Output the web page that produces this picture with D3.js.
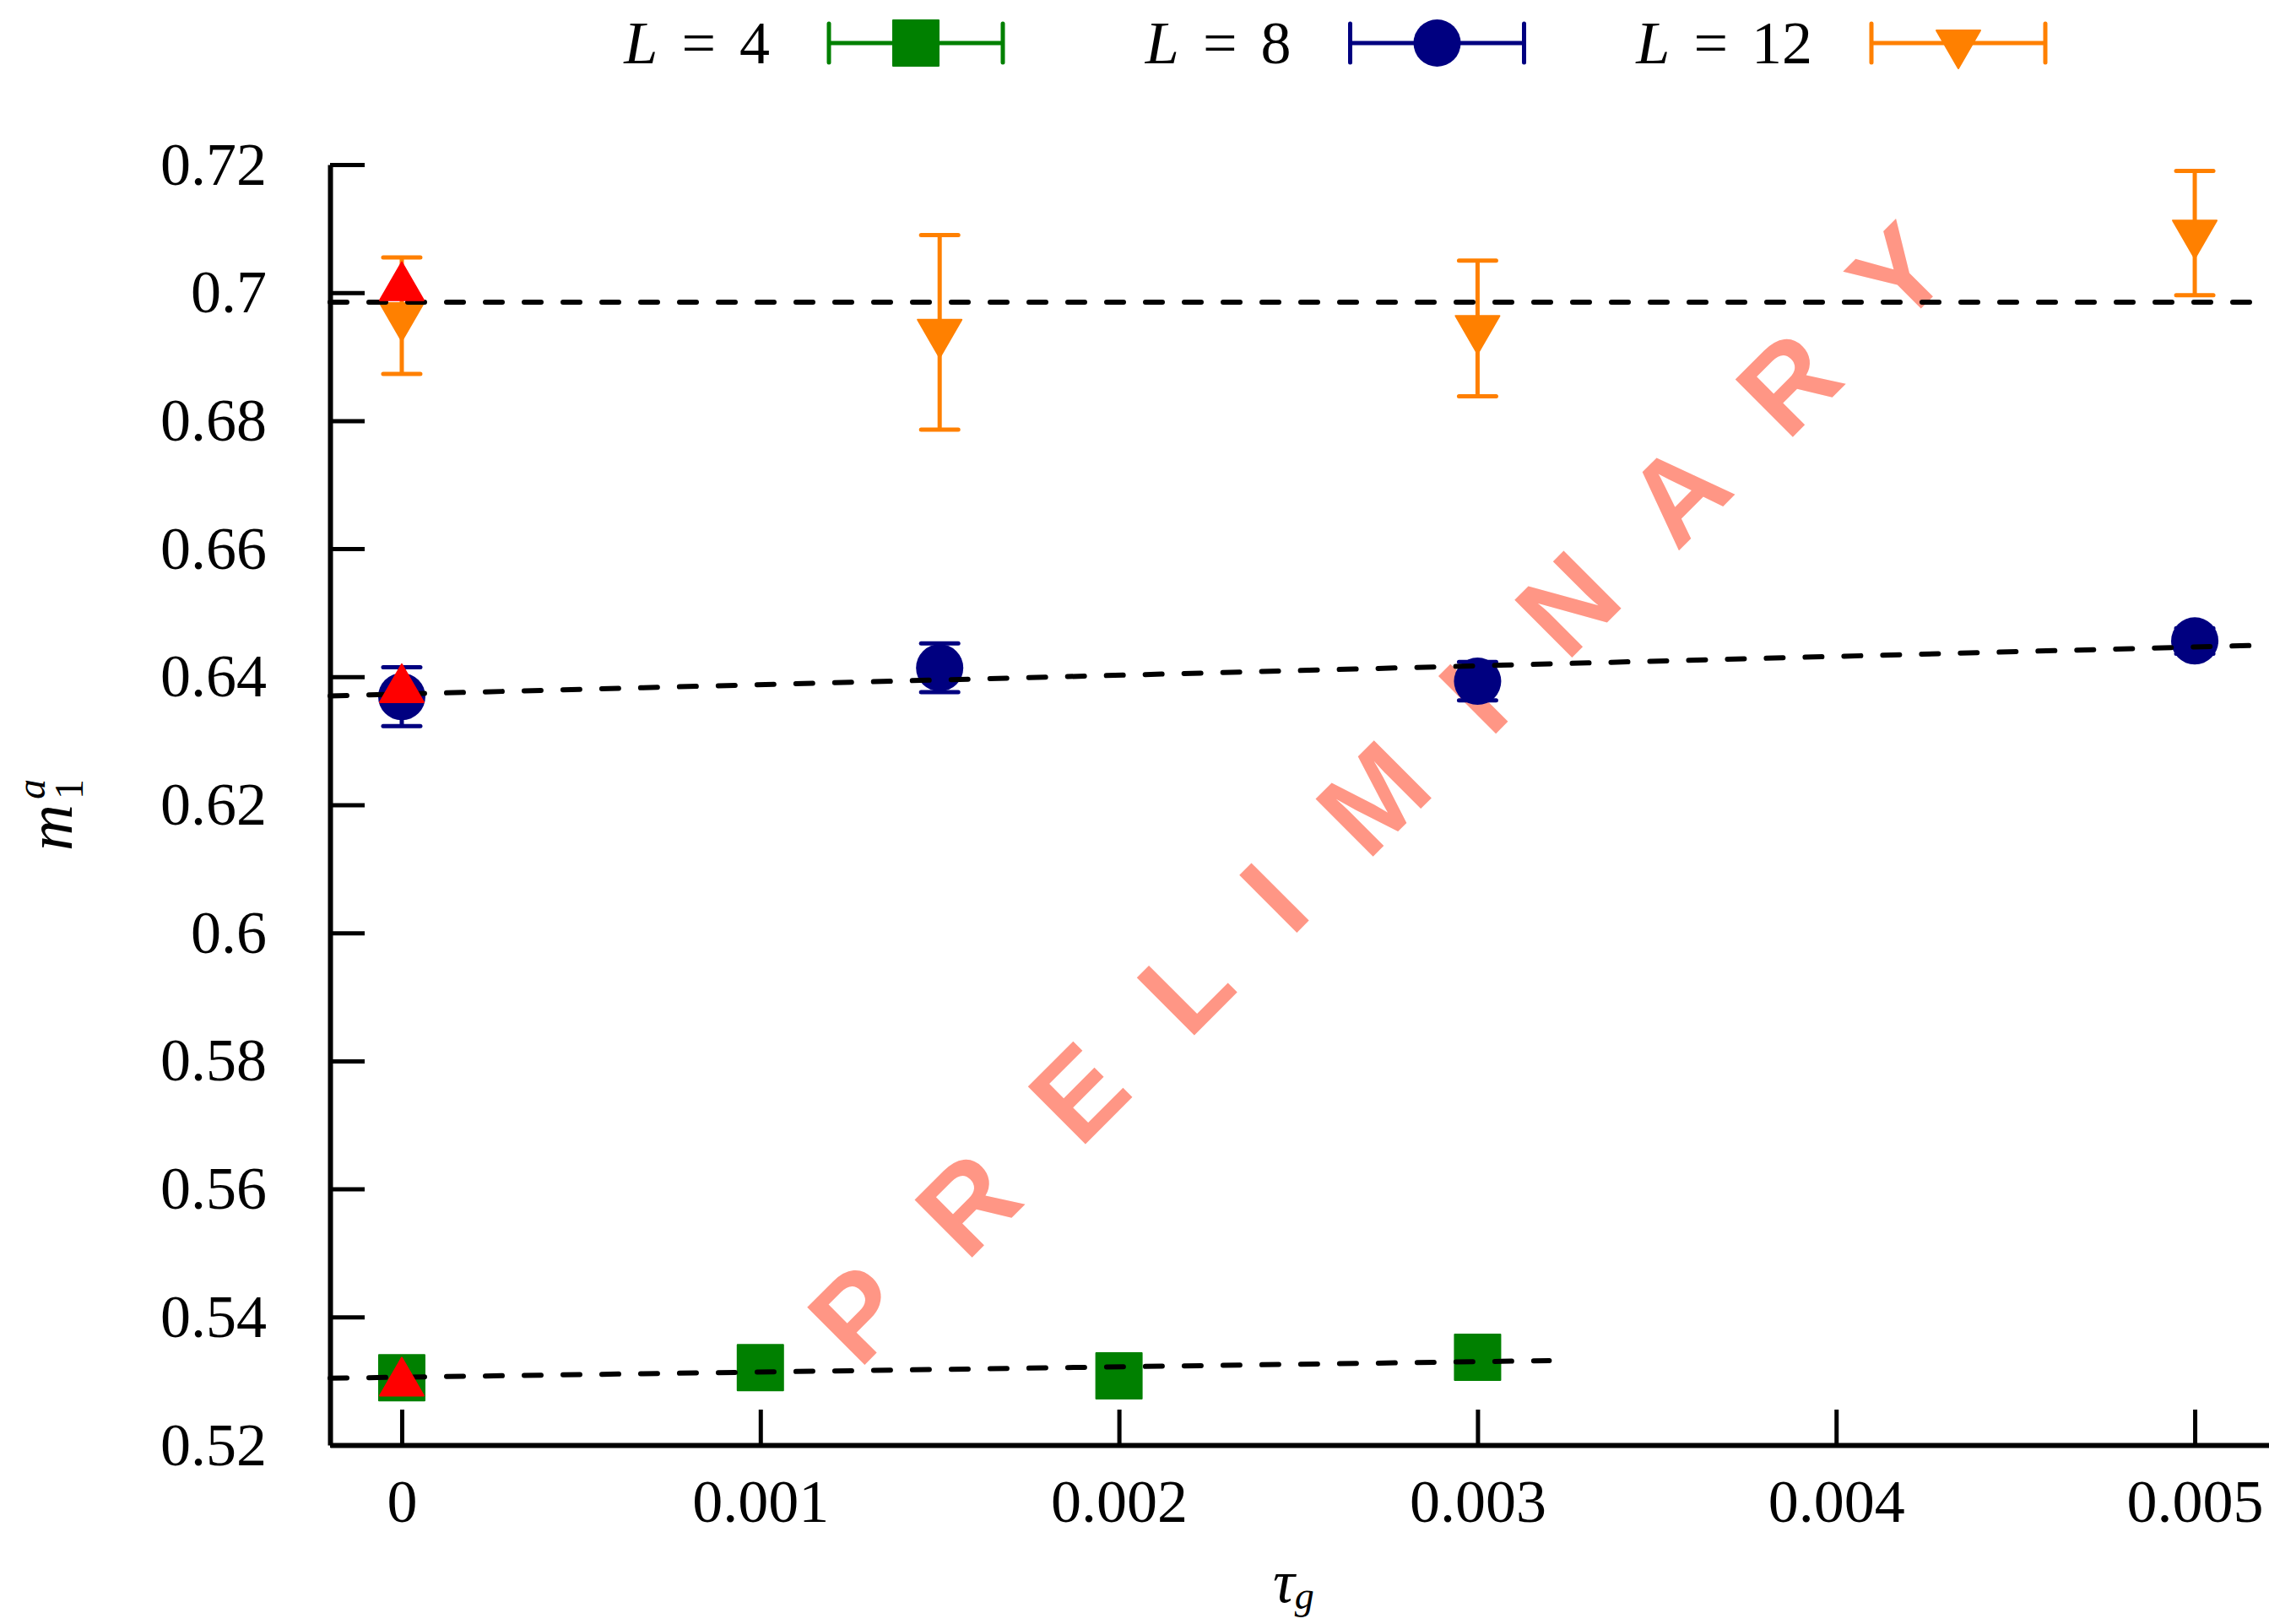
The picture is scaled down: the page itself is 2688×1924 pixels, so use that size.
<!DOCTYPE html>
<html>
<head>
<meta charset="utf-8">
<script src="https://cdn.jsdelivr.net/npm/d3@7"></script>
<style>
    html, body { margin: 0; padding: 0; background: #fff; }
    svg { display: block; }
</style>
</head>
<body>
<div id="chart"></div>
<script>
// 数据: tau_g 与 m_1^a
const tauL4 = [0, 0.001, 0.002, 0.003]
const mL4 = [0.5305, 0.5321, 0.5308, 0.5337]
const errL4 = [0.0015, 0.0015, 0.0015, 0.0015]

const tauL8 = [0, 0.0015, 0.003, 0.005]
const mL8 = [0.6369, 0.6414, 0.6393, 0.6456]
const errL8 = [0.0046, 0.0038, 0.0030, 0.0020]

const tauL12 = [0, 0.0015, 0.003, 0.005]
const mL12 = [0.6964, 0.6938, 0.6944, 0.7093]
const errL12 = [0.0091, 0.0152, 0.0106, 0.0097]

// 外推到 tau_g = 0 的值 (红色三角)
const tauExtrap = [0, 0, 0]
const mExtrap = [0.5297, 0.6380, 0.7008]

// 拟合直线的端点
const fitL4 = [[-0.0002, 0.53044], [0.0032, 0.53319]]
const fitL8 = [[-0.0002, 0.63701], [0.005207, 0.64496]]
const fitL12 = [[-0.0002, 0.6985], [0.005207, 0.6985]]

const xTicks = [0, 0.001, 0.002, 0.003, 0.004, 0.005]
const xTickLabels = ['0', '0.001', '0.002', '0.003', '0.004', '0.005']
const yTicks = [0.52, 0.54, 0.56, 0.58, 0.6, 0.62, 0.64, 0.66, 0.68, 0.7, 0.72]
const yTickLabels = ['0.52', '0.54', '0.56', '0.58', '0.6', '0.62', '0.64', '0.66', '0.68', '0.7', '0.72']

const legendL = ['4', '8', '12']

const W = 2688
const H = 1924
const serif = '"Liberation Serif", "DejaVu Serif", serif'

const series = [
    { L: legendL[0], x: tauL4, y: mL4, e: errL4, color: '#008000', shape: 'square' },
    { L: legendL[1], x: tauL8, y: mL8, e: errL8, color: '#000080', shape: 'circle' },
    { L: legendL[2], x: tauL12, y: mL12, e: errL12, color: '#ff8000', shape: 'down' },
]

const svg = d3.select('#chart').append('svg')
    .attr('width', W)
    .attr('height', H)
    .attr('font-family', serif)

const x = d3.scaleLinear().domain([-0.0002, 0.005207]).range([391, W])
const y = d3.scaleLinear().domain([0.52, 0.72]).range([1712, 195])

// 水印 (放在最底层)
svg.append('text')
    .attr('transform', 'translate(1640,930) rotate(-45)')
    .attr('text-anchor', 'middle')
    .attr('dy', '0.36em')
    .attr('font-family', '"Liberation Sans", Arial, sans-serif')
    .attr('font-weight', 'bold')
    .attr('font-size', 140)
    .attr('letter-spacing', 25)
    .attr('fill', '#ff9685')
    .text('P R E L I M I N A R Y')

// 坐标轴
const yAxis = d3.axisLeft(y)
    .tickValues(yTicks)
    .tickFormat((d, i) => yTickLabels[i])
    .tickSizeInner(-41)
    .tickSizeOuter(0)
    .tickPadding(75)

const xAxis = d3.axisBottom(x)
    .tickValues(xTicks)
    .tickFormat((d, i) => xTickLabels[i])
    .tickSizeInner(-42)
    .tickSizeOuter(0)
    .tickPadding(40)

function styleAxis(g) {
    g.select('.domain').attr('stroke', '#000').attr('stroke-width', 6)
    g.selectAll('.tick line').attr('stroke', '#000').attr('stroke-width', 5)
    g.selectAll('.tick text')
        .attr('fill', '#000')
        .attr('font-size', 72)
        .attr('font-family', serif)
}

svg.append('g')
    .attr('transform', `translate(${x.range()[0]},0)`)
    .call(yAxis)
    .call(styleAxis)

svg.append('g')
    .attr('transform', `translate(0,${y.range()[0]})`)
    .call(xAxis)
    .call(styleAxis)

// 坐标轴标题
const xTitle = svg.append('text')
    .attr('x', 1508)
    .attr('y', 1898)
    .attr('font-size', 72)
    .attr('font-style', 'italic')
xTitle.append('tspan').text('τ')
xTitle.append('tspan').attr('font-size', 46).attr('dy', 8).text('g')

const yTitle = svg.append('g').attr('transform', 'translate(85,960) rotate(-90)')
yTitle.append('text')
    .attr('x', -48)
    .attr('y', 0)
    .attr('font-size', 76)
    .attr('font-style', 'italic')
    .text('m')
yTitle.append('text')
    .attr('x', 13)
    .attr('y', 13)
    .attr('font-size', 48)
    .text('1')
yTitle.append('text')
    .attr('x', 13)
    .attr('y', -32)
    .attr('font-size', 48)
    .attr('font-style', 'italic')
    .text('a')

// 标记点
function drawMarker(g, shape, color) {
    if (shape === 'square') {
        g.append('rect')
            .attr('x', -27).attr('y', -27)
            .attr('width', 54).attr('height', 54)
            .attr('fill', color)
            .attr('stroke', color)
            .attr('stroke-width', 2)
            .attr('stroke-linejoin', 'round')
    } else if (shape === 'circle') {
        g.append('circle')
            .attr('r', 28)
            .attr('fill', color)
    } else {
        const s = shape === 'down' ? 1 : -1
        g.append('path')
            .attr('d', `M-26,${-15 * s}L26,${-15 * s}L0,${30 * s}Z`)
            .attr('fill', color)
            .attr('stroke', color)
            .attr('stroke-width', 2)
            .attr('stroke-linejoin', 'round')
    }
}

function drawErrorBar(g, x0, yLo, yHi, color, capW) {
    g.append('line')
        .attr('x1', x0).attr('x2', x0)
        .attr('y1', yLo).attr('y2', yHi)
        .attr('stroke', color)
        .attr('stroke-width', 5)
    ;[yLo, yHi].forEach((yy) => {
        g.append('line')
            .attr('x1', x0 - capW / 2).attr('x2', x0 + capW / 2)
            .attr('y1', yy).attr('y2', yy)
            .attr('stroke', color)
            .attr('stroke-width', 5)
            .attr('stroke-linecap', 'round')
    })
}

const dataLayer = svg.append('g')

series.forEach((s) => {
    const g = dataLayer.append('g')
    s.x.forEach((xv, i) => {
        drawErrorBar(g, x(xv), y(s.y[i] - s.e[i]), y(s.y[i] + s.e[i]), s.color, 44)
        const m = g.append('g').attr('transform', `translate(${x(xv)},${y(s.y[i])})`)
        drawMarker(m, s.shape, s.color)
    })
})

// 拟合线
const line = d3.line().x(d => x(d[0])).y(d => y(d[1]))
;[fitL4, fitL8, fitL12].forEach((f) => {
    svg.append('path')
        .attr('d', line(f))
        .attr('fill', 'none')
        .attr('stroke', '#000')
        .attr('stroke-width', 6)
        .attr('stroke-dasharray', '20 26')
        .attr('stroke-linecap', 'round')
})

// 外推点
tauExtrap.forEach((xv, i) => {
    const m = svg.append('g').attr('transform', `translate(${x(xv)},${y(mExtrap[i])})`)
    drawMarker(m, 'up', '#ff0000')
})

// 图例
const legend = svg.append('g')
series.forEach((s, i) => {
    const left = 982 + 617.5 * i
    const right = left + 206
    const cy = 51
    const t = legend.append('text')
        .attr('x', left - 70)
        .attr('y', cy)
        .attr('dy', '0.34em')
        .attr('text-anchor', 'end')
        .attr('font-size', 72)
        .attr('word-spacing', 10)
    t.append('tspan').attr('font-style', 'italic').text('L')
    t.append('tspan').text(` = ${s.L}`)

    legend.append('line')
        .attr('x1', left).attr('x2', right)
        .attr('y1', cy).attr('y2', cy)
        .attr('stroke', s.color)
        .attr('stroke-width', 5)
    ;[left, right].forEach((xx) => {
        legend.append('line')
            .attr('x1', xx).attr('x2', xx)
            .attr('y1', cy - 23).attr('y2', cy + 23)
            .attr('stroke', s.color)
            .attr('stroke-width', 5)
            .attr('stroke-linecap', 'round')
    })
    const m = legend.append('g').attr('transform', `translate(${(left + right) / 2},${cy})`)
    drawMarker(m, s.shape, s.color)
})
</script>
</body>
</html>
